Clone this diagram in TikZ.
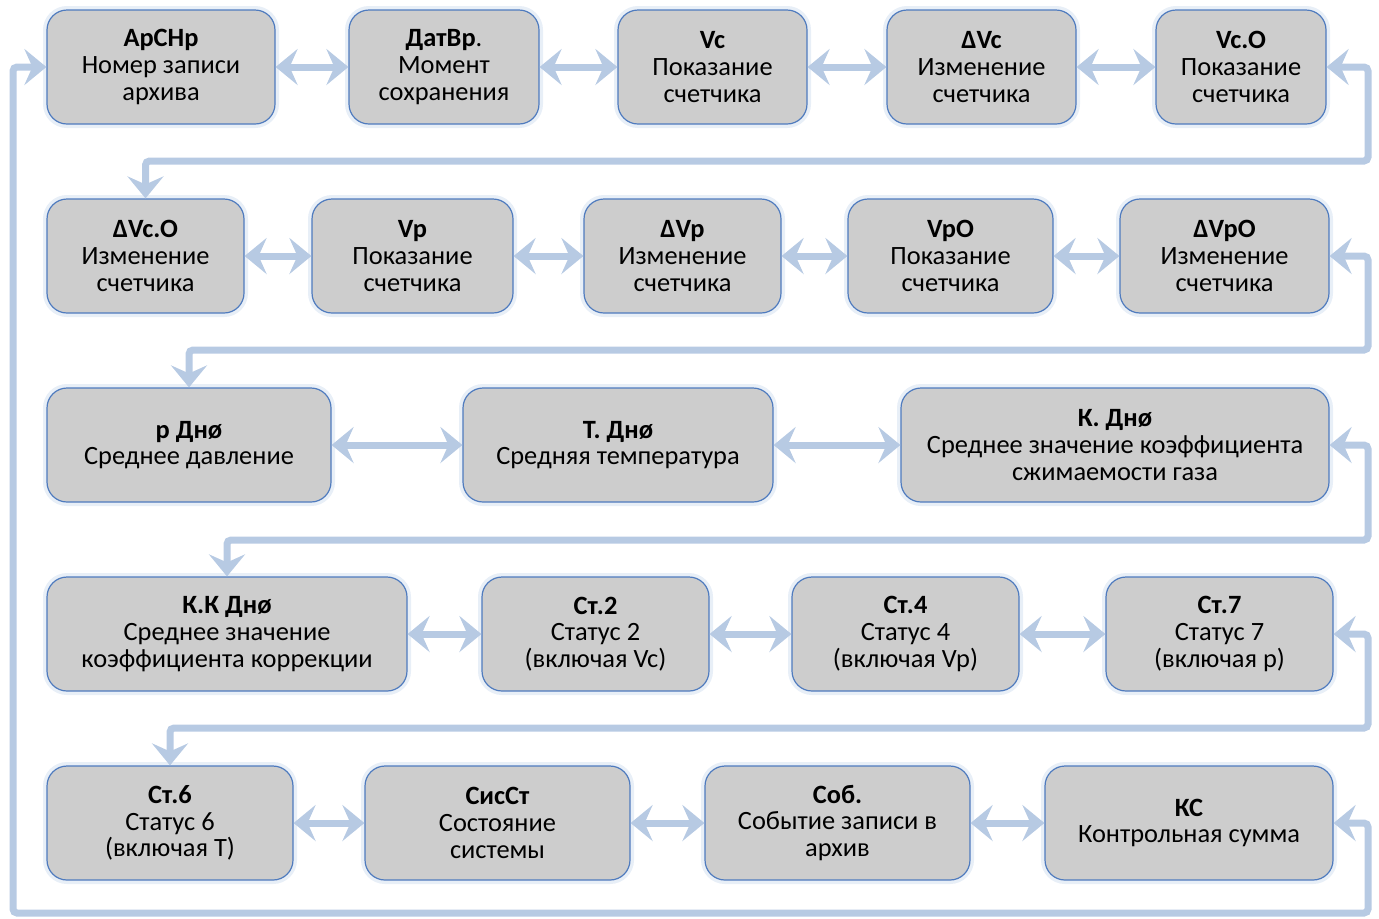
\documentclass[tikz,border=0pt]{standalone}
\usepackage{fontspec}
\setmainfont{Carlito}
\usetikzlibrary{arrows.meta}
\definecolor{boxfill}{HTML}{CDCDCD}
\definecolor{boxline}{HTML}{4F7BBE}
\definecolor{glow}{HTML}{C6D6EC}
\definecolor{linkcol}{HTML}{B7CAE3}
\tikzset{
  main node/.style={rectangle,rounded corners=10pt,draw=boxline,line width=0.6pt,fill=boxfill,
    minimum height=57pt,align=center,font=\fontsize{13.2}{13.3}\selectfont,
    preaction={draw=glow,line width=4pt,opacity=0.4}},
  link/.style={draw=linkcol,line width=3.5pt,rounded corners=2pt,<->}
}

\begin{document}
\begin{tikzpicture}[x=0.5pt,y=-0.5pt,
    >={Stealth[length=11pt,width=18pt,inset=4pt]}]
  \useasboundingbox (0,0) rectangle (1379,918);
  % row 1
  \node [main node,minimum width=114pt] (1) at (161,67) {\textbf{АрСНр}\\Номер записи\\архива};
  \node [main node,minimum width=95pt] (2) at (444,67) {\textbf{ДатВр}.\\Момент\\сохранения};
  \node [main node,minimum width=94.5pt] (3) at (712.5,67) {\textbf{Vc}\\Показание\\счетчика};
  \node [main node,minimum width=94.5pt] (4) at (981.5,67) {\textbf{ΔVc}\\Изменение\\счетчика};
  \node [main node,minimum width=85pt] (5) at (1241,67) {\textbf{Vc.O}\\Показание\\счетчика};
  % row 2
  \node [main node,minimum width=98.5pt] (6) at (145.5,256) {\textbf{ΔVc.O}\\Изменение\\счетчика};
  \node [main node,minimum width=100.5pt] (7) at (412.5,256) {\textbf{Vp}\\Показание\\счетчика};
  \node [main node,minimum width=98.5pt] (8) at (682.5,256) {\textbf{ΔVp}\\Изменение\\счетчика};
  \node [main node,minimum width=102.5pt] (9) at (950.5,256) {\textbf{VpO}\\Показание\\счетчика};
  \node [main node,minimum width=104.5pt] (10) at (1224.5,256) {\textbf{ΔVpO}\\Изменение\\счетчика};
  % row 3
  \node [main node,minimum width=142pt] (11) at (189,445) {\textbf{p Днø}\\Среднее давление};
  \node [main node,minimum width=155pt] (12) at (618,445) {\textbf{T. Днø}\\Средняя температура};
  \node [main node,minimum width=214pt] (13) at (1115,445) {\textbf{К. Днø}\\Среднее значение коэффициента\\сжимаемости газа};
  % row 4
  \node [main node,minimum width=180pt] (14) at (227,634) {\textbf{К.К Днø}\\Среднее значение\\коэффициента коррекции};
  \node [main node,minimum width=113.5pt] (15) at (595.5,634) {\textbf{Ст.2}\\Статус 2\\(включая Vc)};
  \node [main node,minimum width=113.5pt] (16) at (905.5,634) {\textbf{Ст.4}\\Статус 4\\(включая Vp)};
  \node [main node,minimum width=113.5pt] (17) at (1219.5,634) {\textbf{Ст.7}\\Статус 7\\(включая p)};
  % row 5
  \node [main node,minimum width=123pt] (18) at (170,823) {\textbf{Ст.6}\\Статус 6\\(включая Т)};
  \node [main node,minimum width=132.5pt] (19) at (497.5,823) {\textbf{СисСт}\\Состояние\\системы};
  \node [main node,minimum width=132.5pt] (20) at (837.5,823) {\textbf{Соб.}\\Событие записи в\\архив};
  \node [main node,minimum width=144pt] (21) at (1189,823) {\textbf{КС}\\Контрольная сумма};

  \foreach \a/\b in {1/2,2/3,3/4,4/5,6/7,7/8,8/9,9/10,11/12,12/13,
                     14/15,15/16,16/17,18/19,19/20,20/21}
    \draw [link] (\a) -- (\b);

  % turns between rows
  \coordinate (t1) at (1368,161);
  \coordinate (t2) at (1368,350);
  \coordinate (t3) at (1368,540);
  \coordinate (t4) at (1368,728);
  \coordinate (t5) at (1368,913);
  \coordinate (t6) at (13,913);
  \draw [link] (5.east) -| (t1) -| (6.north);
  \draw [link] (10.east) -| (t2) -| (11.north);
  \draw [link] (13.east) -| (t3) -| (14.north);
  \draw [link] (17.east) -| (t4) -| (18.north);
  \draw [link] (21.east) -| (t5) -- (t6) |- (1.west);
\end{tikzpicture}
\end{document}
